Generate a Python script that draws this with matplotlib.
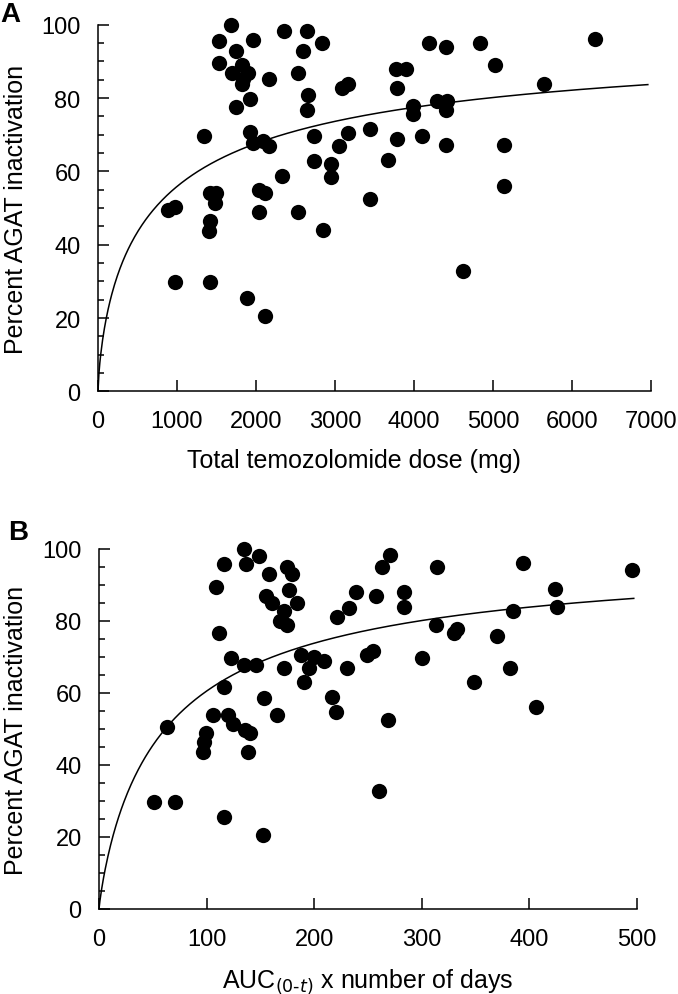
import numpy as np
import matplotlib
matplotlib.use('Agg')
import matplotlib.pyplot as plt
from matplotlib.ticker import MultipleLocator

plt.rcParams['font.family'] = ['Liberation Sans', 'DejaVu Sans']

# Panel A: total temozolomide dose (mg) vs percent AGAT inactivation
dose_mg = [1680, 1536, 1958, 1747, 2354, 2641, 2831, 2599, 1536, 1819,
           1692, 1903, 1840, 1819, 2165, 2536, 3092, 3168, 2662, 1924,
           1747, 2641, 1342, 1924, 1966, 2093, 2168, 2734, 3160, 3443,
           3055, 2734, 2945, 2945, 2325, 3665, 1418, 1494, 1481, 2042,
           2114, 3443, 890, 975, 2042, 2536, 1418, 1409, 2844, 975,
           1418, 1890, 2114, 4190, 4405, 4835, 6295, 5025, 3772, 3899,
           3789, 5650, 3991, 3991, 4295, 4414, 4405, 3789, 4105, 4405,
           5139, 5139, 4624]
agat_a = [100, 95.5, 95.7, 92.8, 98.2, 98.2, 94.9, 92.9, 89.5, 89.1,
          86.8, 86.9, 85.3, 83.7, 85.1, 86.9, 82.7, 83.7, 80.9, 79.8,
          77.6, 76.7, 69.6, 70.8, 67.8, 68.3, 66.9, 69.7, 70.6, 71.5,
          66.9, 62.8, 62.1, 58.5, 58.7, 63.0, 54.0, 54.1, 51.5, 55.0,
          54.0, 52.4, 49.4, 50.3, 48.8, 48.8, 46.4, 43.7, 43.9, 29.7,
          29.7, 25.6, 20.6, 94.9, 93.9, 94.9, 96.0, 88.9, 87.8, 87.8,
          82.7, 83.7, 77.8, 75.7, 79.2, 79.1, 76.7, 68.9, 69.7, 67.2,
          67.2, 55.9, 32.8]

# Panel B: AUC(0-t) x number of days vs percent AGAT inactivation
auc_days = [134.8, 148.7, 116.2, 136.3, 158.0, 175.0, 179.7, 108.4, 176.6, 154.9,
            160.5, 184.3, 171.9, 168.2, 174.4, 270.0, 263.3, 238.5, 232.3, 257.2,
            221.5, 111.8, 122.7, 134.8, 145.9, 172.2, 187.4, 199.8, 195.2, 209.4,
            230.8, 248.8, 254.4, 116.2, 190.8, 153.3, 216.8, 220.0, 62.9, 106.2,
            119.6, 124.3, 165.7, 135.7, 140.3, 99.4, 97.9, 97.0, 138.2, 268.3,
            260.5, 51.1, 70.9, 116.5, 152.1, 313.8, 394.3, 495.0, 283.5, 283.5,
            423.8, 425.4, 385.0, 312.9, 329.9, 333.0, 369.6, 300.5, 382.0, 348.5,
            405.8]
agat_b = [100, 98.1, 95.7, 95.8, 93.0, 94.9, 93.1, 89.5, 88.7, 86.9,
          85.0, 85.0, 82.9, 80.1, 79.0, 98.2, 94.9, 88.0, 83.6, 86.9,
          81.0, 76.6, 69.6, 67.8, 67.8, 66.9, 70.6, 69.9, 66.9, 68.8,
          66.9, 70.6, 71.6, 61.8, 63.0, 58.5, 58.8, 54.8, 50.5, 53.9,
          53.9, 51.4, 53.9, 49.7, 48.8, 48.9, 46.5, 43.5, 43.7, 52.6,
          32.7, 29.6, 29.6, 25.6, 20.6, 94.9, 96.0, 94.2, 88.0, 83.8,
          88.9, 83.8, 82.9, 79.0, 76.8, 77.8, 75.7, 69.7, 66.9, 63.0,
          56.0]

# Fitted Emax (Hill) curves: (emax, ec50, hill, x end)
fit_a = (100.0, 720.0, 0.72, 6960)
fit_b = (100.0, 61.5, 0.88, 497)


def hill_curve(fit):
    emax, ec50, n, xend = fit
    x = np.linspace(0, xend, 600)
    return x, emax * x ** n / (ec50 ** n + x ** n)


def style_axes(ax):
    for side in ['top', 'right']:
        ax.spines[side].set_visible(False)
    for side in ['left', 'bottom']:
        ax.spines[side].set_linewidth(1.1)
    ax.set_ylim(0, 100)
    ax.yaxis.set_major_locator(MultipleLocator(20))
    ax.yaxis.set_minor_locator(MultipleLocator(5))
    ax.tick_params(which='major', direction='in', length=8, width=1.1,
                   labelsize=17, pad=12.5)
    ax.tick_params(which='minor', direction='in', length=4.5, width=1.1)
    ax.tick_params(axis='x', pad=13.5)
    ax.set_ylabel('Percent AGAT inactivation', fontsize=18)


fig = plt.figure(figsize=(6.78, 9.95), dpi=100)

axA = fig.add_axes([98 / 678, 1 - 392.4 / 995, 553 / 678, 366.7 / 995])
axA.plot(dose_mg, agat_a, 'o', color='black', ms=11, mew=0, clip_on=False, zorder=3)
xa, ya = hill_curve(fit_a)
axA.plot(xa, ya, color='black', lw=1.1)
axA.set_xlim(0, 7000)
axA.xaxis.set_major_locator(MultipleLocator(1000))
style_axes(axA)
axA.yaxis.set_label_coords(-0.127, 0.5)
axA.set_xlabel('Total temozolomide dose (mg)', fontsize=18)
axA.xaxis.set_label_coords(0.463, -0.155)
fig.text(0.0, 1 - 14.5 / 995, 'A', fontsize=20, fontweight='bold', va='center', ha='left')

axB = fig.add_axes([99 / 678, 1 - 910 / 995, 538 / 678, 360 / 995])
axB.plot(auc_days, agat_b, 'o', color='black', ms=11, mew=0, clip_on=False, zorder=3)
xb, yb = hill_curve(fit_b)
axB.plot(xb, yb, color='black', lw=1.1)
axB.set_xlim(0, 500)
axB.xaxis.set_major_locator(MultipleLocator(100))
style_axes(axB)
axB.yaxis.set_label_coords(-0.132, 0.5)
axB.set_xlabel('AUC$_{(0\\text{-}t)}$ x number of days', fontsize=18)
axB.xaxis.set_label_coords(0.5, -0.16)
fig.text(8 / 678, 1 - 533 / 995, 'B', fontsize=20, fontweight='bold', va='center', ha='left')

fig.savefig('out.png', dpi=100, facecolor='white')
